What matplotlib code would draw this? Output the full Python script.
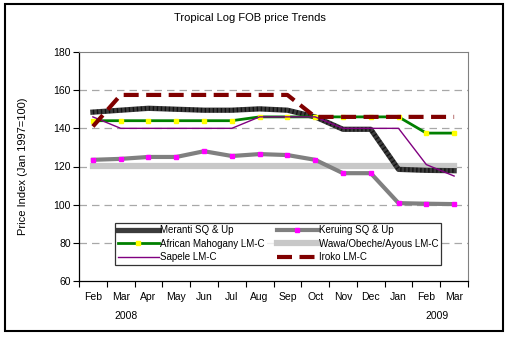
import matplotlib
matplotlib.use("Agg")
import matplotlib.pyplot as plt
from matplotlib.patches import Rectangle
import matplotlib.transforms as mtransforms

plt.rcParams['font.family'] = ['Liberation Sans', 'DejaVu Sans']

months = ["Feb", "Mar", "Apr", "May", "Jun", "Jul", "Aug", "Sep", "Oct", "Nov", "Dec", "Jan", "Feb", "Mar"]
meranti = [148.5, 149.5, 150.5, 150.0, 149.5, 149.5, 150.2, 149.5, 146.0, 139.5, 139.5, 118.5, 118.0, 117.8]
keruing = [123.5, 124.0, 125.0, 125.0, 128.0, 125.5, 126.5, 126.0, 123.5, 116.5, 116.5, 100.8, 100.5, 100.3]
mahogany = [144.0, 144.0, 144.0, 144.0, 144.0, 144.0, 146.0, 146.0, 146.0, 146.0, 146.0, 146.0, 137.5, 137.5]
wawa = [120.5] * 14
sapele = [146.0, 140.0, 140.0, 140.0, 140.0, 140.0, 146.0, 146.0, 146.0, 140.0, 140.0, 140.0, 121.0, 115.0]
iroko = [141.0, 157.5, 157.5, 157.5, 157.5, 157.5, 157.5, 157.5, 146.0, 146.0, 146.0, 146.0, 146.0, 146.0]
y_ticks = [60, 80, 100, 120, 140, 160, 180]
years = ["2008", "2009"]

fig = plt.figure(figsize=(5.14, 3.38), dpi=100)
ax = fig.add_axes([79/514, 1-281/338, (468-79)/514, (281-52)/338])

x = list(range(len(months)))

for v in [80, 100, 120, 140, 160]:
    ax.axhline(v, color='#a8a8a8', lw=0.9, ls=(0, (6, 4)), zorder=0)

ax.plot(x, wawa, color='#c8c8c8', lw=4.5, zorder=2, label='Wawa/Obeche/Ayous LM-C')
ax.plot(x, keruing, color='#808080', lw=3, marker='s', ms=3, mfc='#ff00ff', mec='#ff00ff', zorder=3, label='Keruing SQ & Up')
l_mer, = ax.plot(x, meranti, color='#3c3c3c', lw=3.8, zorder=3, label='Meranti SQ & Up')
ax.plot(x, meranti, color='#111111', lw=3.2, ls=(0, (0.3, 0.6)), zorder=3)
ax.plot(x, mahogany, color='#008000', lw=2, marker='s', ms=3, mfc='#ffff00', mec='#ffff00', zorder=4, label='African Mahogany LM-C')
ax.plot(x, sapele, color='#800080', lw=1, zorder=5, label='Sapele LM-C')
ax.plot(x, iroko, color='#800000', lw=3, ls=(0, (3.6, 1.8)), zorder=6, label='Iroko LM-C')

ax.set_xlim(-0.5, len(months) - 0.5)
ax.set_ylim(60, 180)
ax.set_yticks(y_ticks)
ax.tick_params(axis='y', direction='out', length=4, labelsize=7.5, pad=2)
ax.set_xticks([i + 0.5 for i in range(-1, len(months))])
ax.set_xticklabels([])
ax.tick_params(axis='x', direction='out', length=4)
trans = mtransforms.blended_transform_factory(ax.transData, ax.transAxes)
for i, m in enumerate(months):
    ax.text(i, -0.072, m, transform=trans, ha='center', va='center', fontsize=7.5)
ax.text(1.2, -0.152, years[0], transform=trans, ha='center', va='center', fontsize=7.5)
ax.text(12.4, -0.152, years[1], transform=trans, ha='center', va='center', fontsize=7.5)

for s in ['top', 'right']:
    ax.spines[s].set_color('#808080')
    ax.spines[s].set_linewidth(0.8)
for s in ['left', 'bottom']:
    ax.spines[s].set_color('black')
    ax.spines[s].set_linewidth(0.9)

ax.set_ylabel('Price Index (Jan 1997=100)', fontsize=8)
ax.yaxis.set_label_coords(-0.13, 0.5)

handles, labels = ax.get_legend_handles_labels()
order = ['Meranti SQ & Up', 'African Mahogany LM-C', 'Sapele LM-C',
         'Keruing SQ & Up', 'Wawa/Obeche/Ayous LM-C', 'Iroko LM-C']
hmap = dict(zip(labels, handles))
hs = [hmap[o] for o in order]
leg = ax.legend(hs, order, ncol=2, loc='lower left', bbox_to_anchor=(0.08, 0.048, 0.863, 0.205),
                mode='expand', fontsize=7, frameon=True, fancybox=False, edgecolor='black',
                handlelength=4.2, handletextpad=0.1, borderpad=0.3, labelspacing=0.35,
                columnspacing=1.0, numpoints=1)
leg.get_frame().set_linewidth(0.9)
leg.set_zorder(10)

fig.text(0.486, 1-18/338, 'Tropical Log FOB price Trends', ha='center', va='center', fontsize=8)

fig.patches.append(Rectangle((5/514, 1-331/338), (503-5)/514, (331-4)/338,
                             transform=fig.transFigure, fill=False, edgecolor='black', lw=1.5))

fig.savefig('out.png', dpi=100)
